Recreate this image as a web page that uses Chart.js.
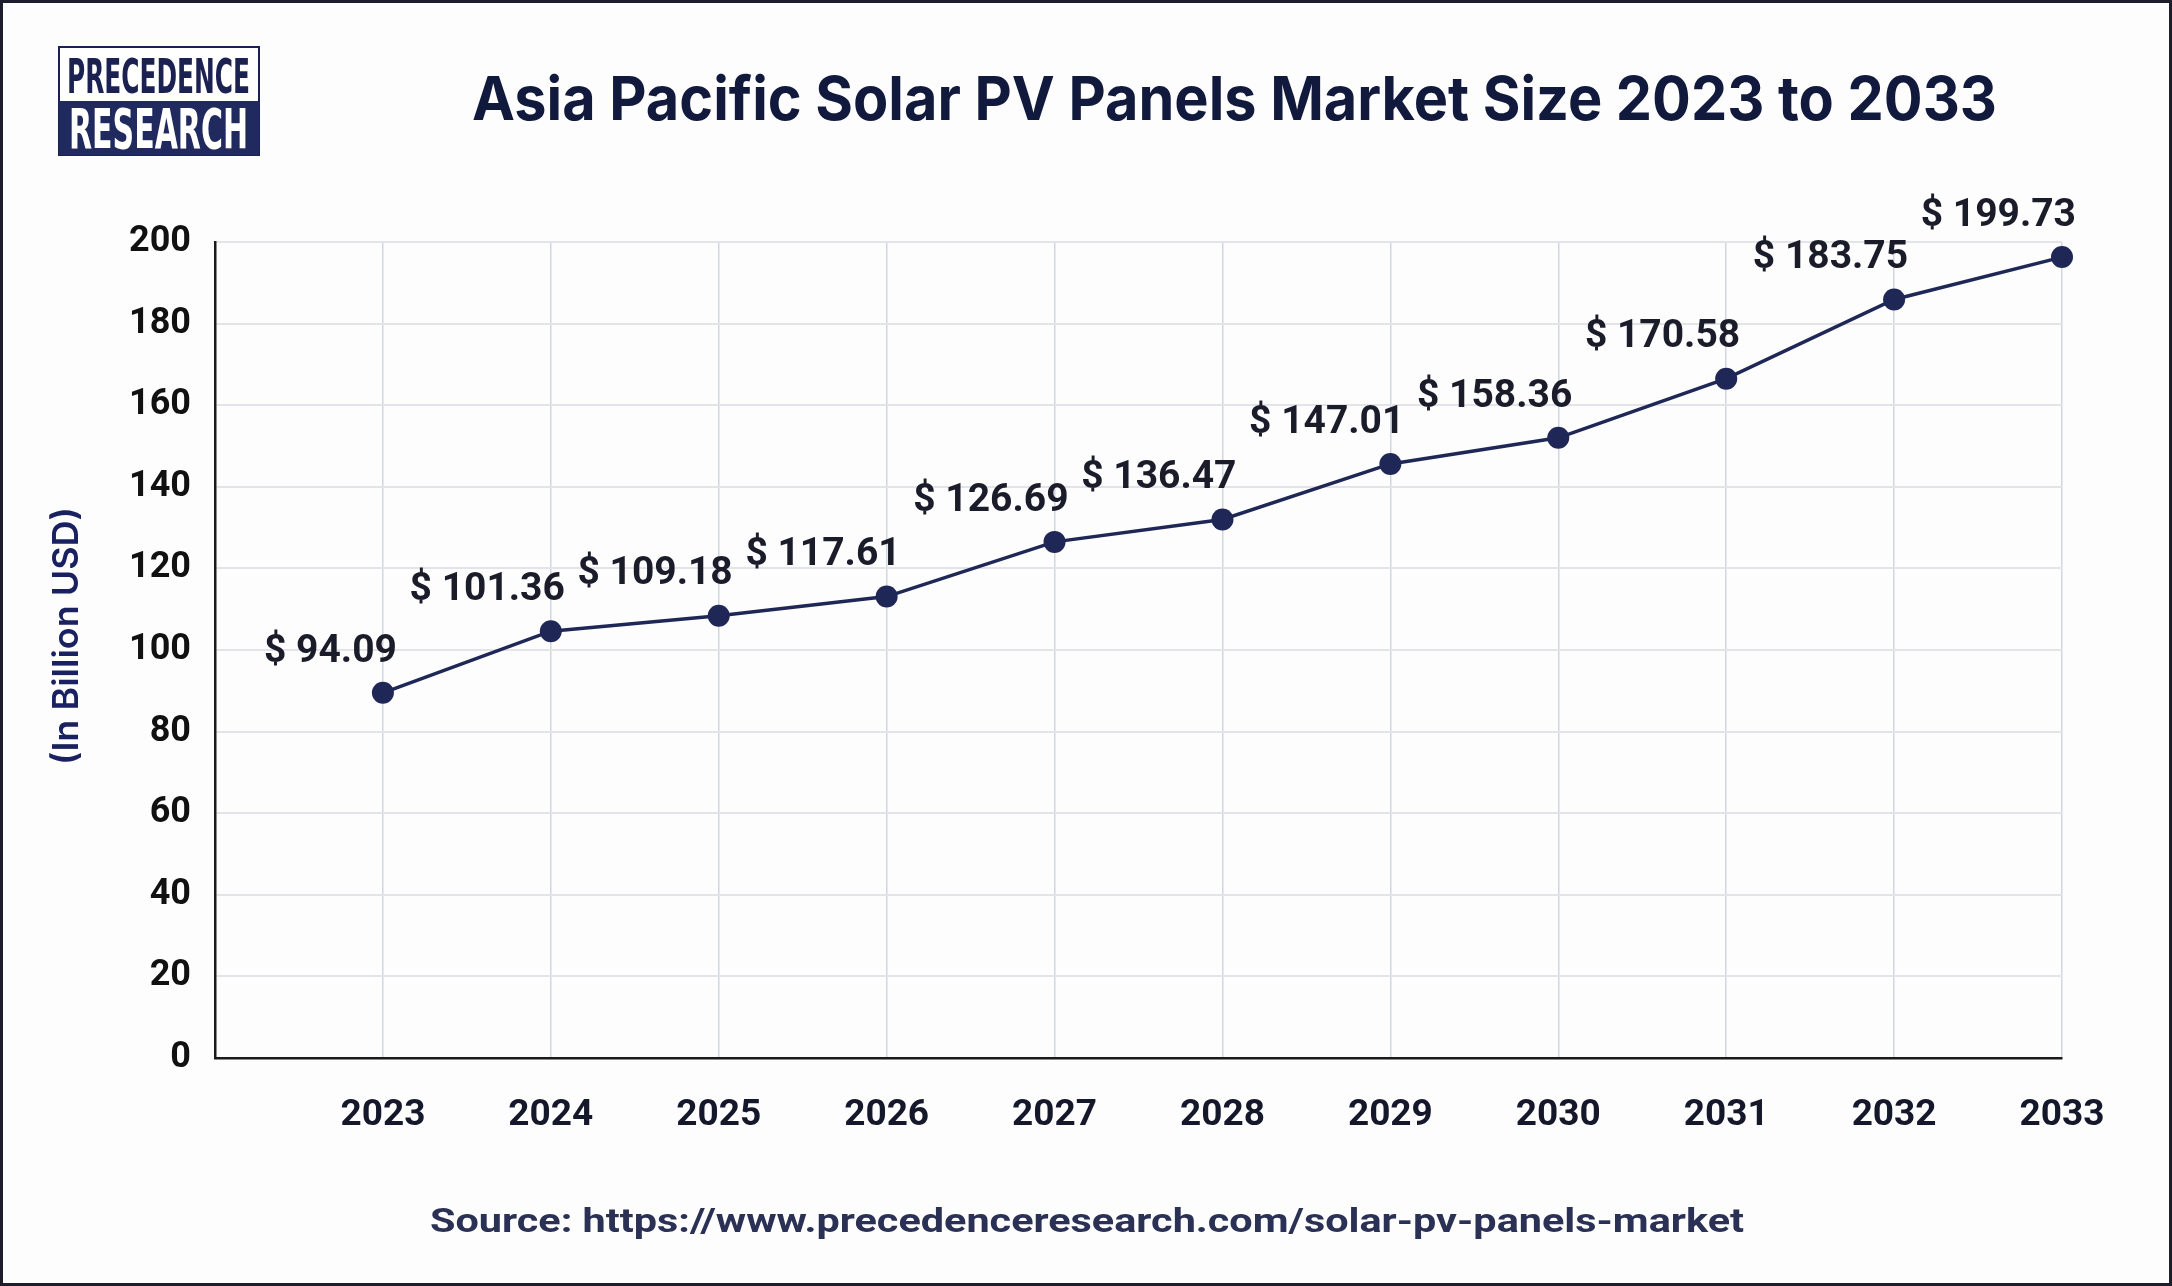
<!DOCTYPE html>
<html><head><meta charset="utf-8">
<script src="https://cdn.jsdelivr.net/npm/chart.js@4.4.1/dist/chart.umd.min.js"></script>
<style>
html,body{margin:0;padding:0;background:#fff;}
#wrap{position:relative;width:2172px;height:1286px;background:#fdfdfd;overflow:hidden;}
#frame{position:absolute;left:0;top:0;width:2172px;height:1286px;box-sizing:border-box;border:3px solid #1c1f2b;pointer-events:none;z-index:5}
canvas{position:absolute;left:0;top:0}
svg.txt{position:absolute;left:0;top:0;z-index:3}
</style></head><body>
<div id="wrap">
<canvas id="c" width="2172" height="1286"></canvas>
<svg class="txt" width="2172" height="1286" xmlns="http://www.w3.org/2000/svg">
  <rect x="59" y="47" width="200" height="108" fill="#ffffff" stroke="#1b2150" stroke-width="2"/>
  <rect x="59" y="101" width="200" height="54" fill="#212a5e"/>
  <text x="67" y="93" textLength="183" lengthAdjust="spacingAndGlyphs" font-family="DejaVu Sans Condensed, DejaVu Sans" font-weight="bold" font-size="48" fill="#1b2150">PRECEDENCE</text>
  <text x="69" y="148" textLength="179" lengthAdjust="spacingAndGlyphs" font-family="DejaVu Sans Condensed, DejaVu Sans" font-weight="bold" font-size="56" fill="#ffffff">RESEARCH</text>
  <text x="472" y="120" textLength="1525" lengthAdjust="spacingAndGlyphs" font-family="Inter" font-weight="700" font-size="61" fill="#111a3d">Asia Pacific Solar PV Panels Market Size 2023 to 2033</text>
  <text id="ytitle" x="0" y="0" transform="translate(78,636) rotate(-90)" text-anchor="middle" textLength="258" lengthAdjust="spacingAndGlyphs" font-family="Inter" font-weight="600" font-size="35" fill="#1a2160"></text>
  <text x="430" y="1232" textLength="1314" lengthAdjust="spacingAndGlyphs" font-family="Roboto" font-weight="700" font-size="34" fill="#2b3154">Source: https://www.precedenceresearch.com/solar-pv-panels-market</text>
</svg>
<div id="frame"></div>
</div>
<script>
// ---- data ----
const years = [2023, 2024, 2025, 2026, 2027, 2028, 2029, 2030, 2031, 2032, 2033];
const plotValues = [89.5, 104.6, 108.4, 113.1, 126.5, 132.0, 145.6, 152.0, 166.5, 185.9, 196.3];
const valueLabels = ['94.09', '101.36', '109.18', '117.61', '126.69', '136.47', '147.01', '158.36', '170.58', '183.75', '199.73'];
const yMin = 0, yMax = 200, yStep = 20;
const xStart = 2022;
const yAxisTitle = '(In Billion USD)';

document.getElementById('ytitle').textContent = yAxisTitle;

const navy = '#1e2756';
const points = years.map((y, i) => ({x: y, y: plotValues[i]}));

const labelPlugin = {
  id: 'valueLabels',
  afterDatasetsDraw(chart) {
    const ctx = chart.ctx;
    const meta = chart.getDatasetMeta(0);
    ctx.save();
    ctx.font = 'bold 39px Roboto';
    ctx.fillStyle = '#1b1c2a';
    ctx.textAlign = 'right';
    ctx.textBaseline = 'middle';
    meta.data.forEach((pt, i) => {
      ctx.fillText('$ ' + valueLabels[i], pt.x + 14, pt.y - 41);
    });
    ctx.restore();
  }
};

new Chart(document.getElementById('c'), {
  type: 'line',
  data: {
    datasets: [{
      data: points,
      borderColor: navy,
      borderWidth: 3.5,
      backgroundColor: navy,
      pointRadius: 11,
      pointHoverRadius: 11,
      pointBorderWidth: 0,
      tension: 0,
      clip: false
    }]
  },
  options: {
    responsive: false,
    animation: false,
    layout: { padding: { left: 0, right: 110, top: 242, bottom: 0 } },
    plugins: { legend: { display: false }, tooltip: { enabled: false }, title: { display: false } },
    scales: {
      x: {
        type: 'linear',
        min: xStart,
        max: years[years.length - 1],
        afterFit(scale) { scale.height = 228; },
        afterBuildTicks(scale) {
          scale.ticks = [xStart].concat(years).map(v => ({value: v}));
        },
        ticks: {
          stepSize: 1,
          autoSkip: false,
          maxRotation: 0,
          padding: 36,
          color: '#15172a',
          font: { family: 'Roboto', weight: 'bold', size: 37 },
          callback: v => (v === xStart ? '' : String(v))
        },
        grid: {
          drawTicks: false,
          color: c => (c.tick && c.tick.value === xStart ? 'rgba(0,0,0,0)' : '#d3d6df'),
          lineWidth: 1.5
        },
        border: { display: true, color: '#1a1a1a', width: 2.5 }
      },
      y: {
        min: yMin,
        max: yMax,
        afterFit(scale) { scale.width = 215; },
        ticks: {
          stepSize: yStep,
          padding: 24,
          color: '#111111',
          font: { family: 'Roboto', weight: 'bold', size: 36 }
        },
        grid: { drawTicks: false, color: '#e3e4e9', lineWidth: 2 },
        border: { display: true, color: '#1a1a1a', width: 2.5 },
        title: { display: false }
      }
    }
  },
  plugins: [labelPlugin]
});
</script>
</body></html>
